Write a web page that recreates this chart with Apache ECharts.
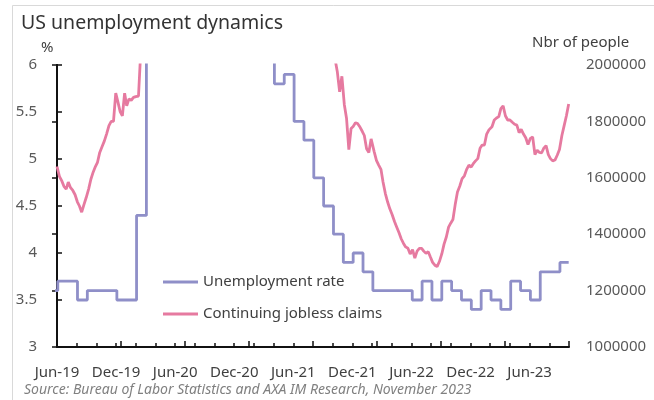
<!DOCTYPE html>
<html>
<head>
<meta charset="utf-8">
<script src="https://cdn.jsdelivr.net/npm/echarts@6/dist/echarts.min.js"></script>
<style>
  html, body { margin: 0; padding: 0; background: #ffffff; }
  #chart { width: 654px; height: 400px; }
</style>
</head>
<body>
<div id="chart"></div>
<script>
// ---- Text ----
const TITLE = 'US unemployment dynamics';
const SOURCE = 'Source: Bureau of Labor Statistics and AXA IM Research, November 2023';
const LEFT_UNIT = '%';
const RIGHT_UNIT = 'Nbr of people';
const SERIES_NAMES = ['Unemployment rate', 'Continuing jobless claims'];

// ---- Time axis: origin is the first weekly observation (29 Jun 2019) ----
const X_TICK_LABELS = ['Jun-19', 'Dec-19', 'Jun-20', 'Dec-20', 'Jun-21', 'Dec-21', 'Jun-22', 'Dec-22', 'Jun-23'];

// ---- Unemployment rate, monthly, %, from June 2019 to October 2023 ----
const RATE_2019 = [3.6, 3.7, 3.7, 3.5, 3.6, 3.6, 3.6];                                  // Jun-Dec
const RATE_2020 = [3.5, 3.5, 4.4, 14.8, 13.2, 11.0, 10.2, 8.4, 7.8, 6.8, 6.7, 6.7];
const RATE_2021 = [6.4, 6.2, 6.1, 6.1, 5.8, 5.9, 5.4, 5.2, 4.8, 4.5, 4.2, 3.9];
const RATE_2022 = [4.0, 3.8, 3.6, 3.6, 3.6, 3.6, 3.5, 3.7, 3.5, 3.7, 3.6, 3.5];
const RATE_2023 = [3.4, 3.6, 3.5, 3.4, 3.7, 3.6, 3.5, 3.8, 3.8, 3.9];                   // Jan-Oct

// ---- Continuing jobless claims, weekly, thousands of people (weeks ending Saturday) ----
const CLAIMS_PRE_COVID = [
  1640, 1605, 1590, 1570, 1560, 1585, 1565, 1555, 1540, 1515,
  1500, 1478, 1505, 1530, 1560, 1595, 1620, 1640, 1655, 1690,
  1710, 1730, 1755, 1785, 1800, 1800, 1900, 1870, 1835, 1820,
  1900, 1855, 1880, 1875, 1885, 1888, 1890
];
const CLAIMS_COVID = [
  2050, 3060, 7450, 11900, 15800, 18000, 22300, 22500, 24900, 21000,
  20800, 20600, 19300, 17800, 17300, 16900, 16800, 16000, 15900, 15100,
  14800, 14500, 13500, 13300, 12600, 12700, 11800, 10900, 9900, 8400,
  7700, 7300, 6800, 6800, 6400, 6100, 5600, 5400, 5700, 5300,
  5100, 5000, 5100, 5000, 4800, 4700, 4600, 4500, 4400, 4300,
  4100, 4100, 3900, 3800, 3700, 3700, 3700, 3700, 3600, 3700,
  3600, 3600, 3400, 3400, 3400, 3400, 3300, 3300, 3300, 3200,
  3000, 2900, 2800, 2800, 2700, 2800, 2800, 2700, 2800, 2700,
  2500, 2400, 2300, 2200, 2150, 2100, 2020
];
const CLAIMS_POST_COVID = [
  1975, 1905, 1960, 1860, 1810, 1700, 1775, 1782, 1795, 1792,
  1780, 1765, 1750, 1703, 1690, 1738, 1693, 1662, 1645, 1630,
  1585, 1545, 1515, 1490, 1470, 1445, 1425, 1405, 1383, 1368,
  1355, 1350, 1330, 1345, 1315, 1340, 1350, 1350, 1340, 1332,
  1338, 1318, 1300, 1290, 1285, 1303, 1330, 1365, 1390, 1425,
  1440, 1452, 1505, 1550, 1570, 1597, 1607, 1630, 1645, 1638,
  1650, 1660, 1668, 1705, 1716, 1716, 1755, 1770, 1781, 1805,
  1812, 1817, 1845, 1855, 1820, 1805, 1805, 1797, 1790, 1787,
  1760, 1772, 1755, 1742, 1718, 1740, 1745, 1682, 1698, 1690,
  1688, 1705, 1714, 1682, 1668, 1660, 1663, 1680, 1700, 1750,
  1785, 1820, 1862
];

// ---- Style ----
const FONT = 'Noto Sans';
const COLOR_RATE = '#8f8fc8';
const COLOR_CLAIMS = '#e67aa0';
const AXIS_COLOR = '#111111';
const LABEL_COLOR = '#404040';

// Months elapsed since the axis origin (29 Jun 2019), as a continuous number
const ORIGIN = { y: 2019, m: 5, d: 29 };
function monthsFromOrigin(ms) {
  const d = new Date(ms);
  return (d.getUTCFullYear() - ORIGIN.y) * 12 + (d.getUTCMonth() - ORIGIN.m) + (d.getUTCDate() - ORIGIN.d) / 30.4375;
}
const DAY = 86400000;
const originMs = Date.UTC(ORIGIN.y, ORIGIN.m, ORIGIN.d);

const claimsK = CLAIMS_PRE_COVID.concat(CLAIMS_COVID, CLAIMS_POST_COVID);
const claimsData = claimsK.map((v, k) => [monthsFromOrigin(originMs + k * 7 * DAY), v * 1000]);
const lastWeekX = claimsData[claimsData.length - 1][0];

const rateMonthly = RATE_2019.concat(RATE_2020, RATE_2021, RATE_2022, RATE_2023);
const rateData = rateMonthly.map((v, i) => [monthsFromOrigin(Date.UTC(2019, 5 + i, 1)), v]);
// the latest reading holds until the last weekly observation
rateData.push([lastWeekX, rateMonthly[rateMonthly.length - 1]]);

const chart = echarts.init(document.getElementById('chart'), null, { renderer: 'canvas' });

const axisLine = { show: true, lineStyle: { color: AXIS_COLOR, width: 2 } };
const tickStyle = { color: AXIS_COLOR, width: 1.5 };

chart.setOption({
  animation: false,
  backgroundColor: '#ffffff',
  textStyle: { fontFamily: FONT },
  title: {
    text: TITLE,
    left: 16,
    top: 8,
    textStyle: { fontFamily: FONT, fontSize: 19.5, fontWeight: 'normal', color: '#333333' }
  },
  legend: {
    orient: 'vertical',
    left: 158,
    top: 268,
    icon: 'rect',
    itemWidth: 35,
    itemHeight: 3,
    itemGap: 14,
    data: SERIES_NAMES,
    textStyle: { fontFamily: FONT, fontSize: 15, color: LABEL_COLOR, lineHeight: 18 }
  },
  grid: { left: 57, right: 85, top: 65, bottom: 53 },
  xAxis: [
    {
      type: 'value',
      min: 0,
      max: 52,
      interval: 2,
      axisLine: axisLine,
      axisTick: { show: true, inside: true, length: 4, lineStyle: tickStyle },
      axisLabel: {
        color: LABEL_COLOR,
        fontFamily: FONT,
        fontSize: 15,
        margin: 18,
        formatter: function (v) {
          return v % 6 === 0 && X_TICK_LABELS[v / 6] ? X_TICK_LABELS[v / 6] : '';
        }
      },
      splitLine: { show: false }
    },
    {
      // longer marks at each half-year
      type: 'value',
      position: 'bottom',
      min: 0,
      max: 48,
      interval: 6,
      axisLine: { show: false },
      axisTick: { show: true, inside: true, length: 6, lineStyle: tickStyle },
      axisLabel: { show: false },
      splitLine: { show: false }
    }
  ],
  yAxis: [
    {
      type: 'value',
      min: 3,
      max: 6,
      interval: 0.5,
      axisLine: axisLine,
      axisTick: { show: true, inside: true, length: 5, lineStyle: tickStyle },
      axisLabel: { color: '#595959', fontFamily: FONT, fontSize: 15, margin: 20 },
      splitLine: { show: false }
    },
    {
      type: 'value',
      position: 'right',
      min: 1000000,
      max: 2000000,
      interval: 200000,
      axisLine: axisLine,
      axisTick: { show: true, inside: true, length: 5, lineStyle: tickStyle },
      axisLabel: {
        color: '#595959', fontFamily: FONT, fontSize: 15, margin: 17,
        formatter: function (v) { return String(v); }
      },
      splitLine: { show: false }
    }
  ],
  series: [
    {
      name: SERIES_NAMES[0],
      type: 'line',
      xAxisIndex: 0,
      yAxisIndex: 0,
      step: 'end',
      symbol: 'none',
      clip: true,
      data: rateData,
      itemStyle: { color: COLOR_RATE },
      lineStyle: { color: COLOR_RATE, width: 2.8 }
    },
    {
      name: SERIES_NAMES[1],
      type: 'line',
      xAxisIndex: 0,
      yAxisIndex: 1,
      symbol: 'none',
      clip: true,
      data: claimsData,
      itemStyle: { color: COLOR_CLAIMS },
      lineStyle: { color: COLOR_CLAIMS, width: 2.8 }
    }
  ],
  graphic: [
    {
      type: 'rect',
      silent: true,
      shape: { x: 12.5, y: 5.5, width: 700, height: 500 },
      style: { fill: 'none', stroke: '#d9d9d9', lineWidth: 1 },
      z: -10
    },
    {
      type: 'text',
      left: 41,
      top: 40,
      style: { text: LEFT_UNIT, font: '15px "Noto Sans"', fill: LABEL_COLOR }
    },
    {
      type: 'text',
      left: 532,
      top: 35,
      style: { text: RIGHT_UNIT, font: '15px "Noto Sans"', fill: LABEL_COLOR }
    },
    {
      type: 'text',
      left: 24,
      top: 383,
      style: { text: SOURCE, font: 'italic 14px "Noto Sans"', fill: '#808080' }
    }
  ]
});
</script>
</body>
</html>
